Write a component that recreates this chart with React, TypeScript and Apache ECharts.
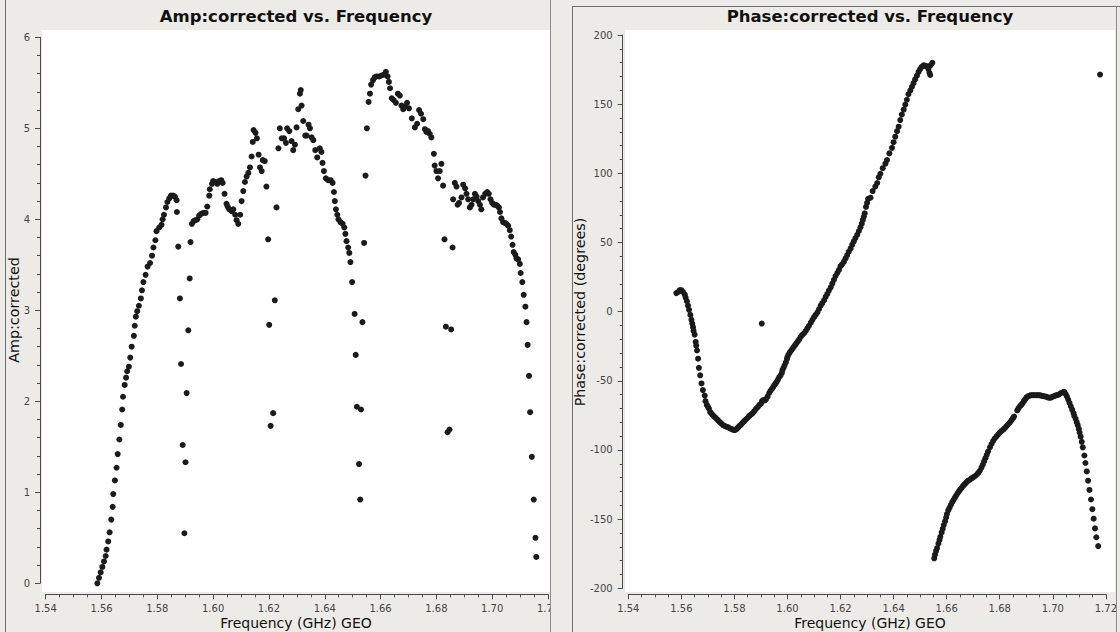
import { useEffect, useRef } from "react";
import * as echarts from "echarts";

// ---------- data ----------
const ampTitle = "Amp:corrected vs. Frequency";
const phaseTitle = "Phase:corrected vs. Frequency";
const xName = "Frequency (GHz) GEO";
const ampName = "Amp:corrected";
const phaseName = "Phase:corrected (degrees)";

const freqRange = [1.54, 1.72];
const freqStep = 0.02;
const ampRange = [0, 6];
const ampStep = 1;
const phaseRange = [-200, 200];
const phaseStep = 50;

const ampPoints: [number, number][] = [
  [1.5585, 0.0], [1.5591, 0.06], [1.5597, 0.12], [1.5603, 0.18], [1.5609, 0.24], [1.5615, 0.3],
  [1.5618, 0.37], [1.5624, 0.46], [1.5629, 0.56], [1.5635, 0.7], [1.564, 0.84], [1.5642, 0.98],
  [1.5648, 1.13], [1.5654, 1.27], [1.5658, 1.42], [1.5664, 1.58], [1.5669, 1.74], [1.5674, 1.91],
  [1.5677, 2.05], [1.5683, 2.18], [1.5688, 2.26], [1.5692, 2.33], [1.5698, 2.38], [1.5703, 2.48],
  [1.5708, 2.6], [1.5716, 2.72], [1.5719, 2.83], [1.5723, 2.93], [1.5728, 2.99], [1.5734, 3.05],
  [1.5741, 3.13], [1.5745, 3.22], [1.575, 3.31], [1.5758, 3.39], [1.5765, 3.48], [1.5774, 3.52],
  [1.5781, 3.6], [1.5786, 3.69], [1.5793, 3.77], [1.5797, 3.87], [1.5807, 3.91], [1.5815, 3.94],
  [1.5819, 4.0], [1.5824, 4.05], [1.5831, 4.13], [1.5836, 4.19], [1.5843, 4.23], [1.5849, 4.26],
  [1.5857, 4.26], [1.5863, 4.25], [1.5869, 4.21], [1.587, 4.08],
  [1.5875, 3.7], [1.5881, 3.13], [1.5885, 2.41], [1.5891, 1.52], [1.5897, 0.55], [1.5901, 1.33],
  [1.5905, 2.09], [1.5911, 2.78], [1.5916, 3.35], [1.5919, 3.75],
  [1.5924, 3.95], [1.593, 3.98], [1.5937, 3.99], [1.5943, 4.0], [1.595, 4.04], [1.5957, 4.06],
  [1.5965, 4.07], [1.5973, 4.07], [1.5979, 4.14], [1.5986, 4.26], [1.5988, 4.33], [1.5996, 4.39],
  [1.6, 4.42], [1.6008, 4.41], [1.6015, 4.39], [1.6022, 4.42], [1.6029, 4.43], [1.6034, 4.4],
  [1.6041, 4.28], [1.6048, 4.17], [1.6052, 4.14], [1.6058, 4.11], [1.6066, 4.09], [1.6072, 4.11],
  [1.6079, 4.05], [1.6084, 3.99], [1.609, 3.95], [1.6097, 4.05], [1.6102, 4.2], [1.6108, 4.31],
  [1.6114, 4.41], [1.612, 4.47], [1.6126, 4.51], [1.6132, 4.57], [1.6138, 4.69], [1.6142, 4.85],
  [1.6145, 4.98], [1.6152, 4.95], [1.6157, 4.89], [1.6163, 4.71], [1.6168, 4.57], [1.6174, 4.53],
  [1.6178, 4.65], [1.6185, 4.64], [1.6191, 4.36],
  [1.6197, 3.78], [1.6201, 2.84], [1.6206, 1.73], [1.6215, 1.87], [1.6221, 3.11], [1.6227, 4.13],
  [1.6234, 4.78], [1.6239, 5.0], [1.6246, 4.89], [1.6254, 4.89], [1.6261, 4.84], [1.6265, 5.0],
  [1.6273, 4.97], [1.6281, 4.86], [1.6287, 4.76], [1.6293, 4.82], [1.6299, 5.01], [1.6305, 5.21],
  [1.6311, 5.38], [1.6314, 5.42], [1.6317, 5.25], [1.6323, 5.08], [1.633, 4.92], [1.6335, 4.92],
  [1.6342, 5.04], [1.6347, 5.0], [1.6353, 4.9], [1.6359, 4.87], [1.6366, 4.76], [1.6373, 4.68],
  [1.6382, 4.78], [1.6388, 4.74], [1.6392, 4.62], [1.6397, 4.53], [1.6404, 4.45], [1.6412, 4.43],
  [1.6421, 4.43], [1.6428, 4.4], [1.6433, 4.3], [1.6436, 4.2], [1.644, 4.11], [1.6445, 4.05],
  [1.6449, 4.0], [1.6456, 3.97], [1.6464, 3.95], [1.647, 3.91], [1.6474, 3.84], [1.6478, 3.76],
  [1.6484, 3.69], [1.6488, 3.63], [1.6492, 3.53], [1.6498, 3.31], [1.6507, 2.96], [1.6511, 2.51],
  [1.6515, 1.94], [1.6523, 1.31], [1.6527, 0.92], [1.653, 1.91], [1.6535, 2.87], [1.6541, 3.74],
  [1.6546, 4.48], [1.6551, 5.0], [1.6557, 5.29], [1.6562, 5.38], [1.6566, 5.48], [1.6573, 5.53],
  [1.6579, 5.56], [1.6585, 5.57], [1.6595, 5.57], [1.6603, 5.58], [1.6612, 5.59], [1.6619, 5.62],
  [1.6625, 5.57], [1.663, 5.51], [1.6634, 5.44], [1.664, 5.33], [1.6647, 5.31], [1.6655, 5.28],
  [1.6662, 5.38], [1.6669, 5.36], [1.6675, 5.25], [1.6681, 5.21], [1.6688, 5.24], [1.6695, 5.28],
  [1.6702, 5.22], [1.6712, 5.11], [1.6723, 5.01], [1.6731, 5.05], [1.6738, 5.2], [1.6745, 5.16],
  [1.6753, 5.1], [1.6759, 4.99], [1.6764, 4.96], [1.677, 4.97], [1.6776, 4.94], [1.6782, 4.9],
  [1.6791, 4.72], [1.6794, 4.59], [1.68, 4.53], [1.6806, 4.45], [1.6812, 4.53], [1.6818, 4.61],
  [1.6824, 4.37],
  [1.6829, 3.78], [1.6834, 2.82], [1.684, 1.66], [1.6847, 1.69], [1.6853, 2.79], [1.6858, 3.69],
  [1.686, 4.22], [1.6866, 4.4], [1.6872, 4.36], [1.6876, 4.16], [1.6881, 4.18], [1.689, 4.24],
  [1.6896, 4.38], [1.6903, 4.34], [1.6908, 4.28], [1.6914, 4.22], [1.692, 4.13], [1.6926, 4.16],
  [1.6932, 4.22], [1.6938, 4.28], [1.6944, 4.25], [1.695, 4.2], [1.6956, 4.16], [1.6961, 4.11],
  [1.6967, 4.24], [1.6975, 4.28], [1.6982, 4.3], [1.6988, 4.28], [1.6994, 4.22], [1.7, 4.18],
  [1.7006, 4.16], [1.7012, 4.16], [1.7018, 4.15], [1.7024, 4.13], [1.7028, 4.08], [1.7033, 4.01],
  [1.7039, 3.97], [1.7045, 3.96], [1.7051, 3.95], [1.7057, 3.93], [1.7063, 3.88], [1.7068, 3.81],
  [1.7073, 3.72], [1.7077, 3.64], [1.7083, 3.61], [1.7087, 3.57], [1.7093, 3.56], [1.7099, 3.51],
  [1.7102, 3.41], [1.7108, 3.31], [1.7113, 3.17], [1.7119, 3.04], [1.7123, 2.87], [1.7127, 2.62],
  [1.7132, 2.28], [1.7136, 1.88], [1.7142, 1.39], [1.7149, 0.92], [1.7155, 0.5], [1.7158, 0.29],
];

const phaseUpper: [number, number][] = [
  [1.5581, 13.4], [1.5588, 14.2], [1.5594, 15.5], [1.56, 15.5], [1.5606, 14.2], [1.5613, 12.3],
  [1.5616, 10.2], [1.5621, 7.5], [1.5625, 4.3], [1.5629, 1.3], [1.5634, -2.4], [1.5638, -5.9],
  [1.5641, -8.6], [1.5644, -11.2], [1.5646, -13.9], [1.565, -16.6], [1.5654, -21.9], [1.5656, -24.6],
  [1.5659, -28.1], [1.5663, -34.0], [1.5666, -40.6], [1.5671, -46.0], [1.5676, -51.9], [1.5681, -56.7],
  [1.5688, -60.7], [1.5691, -64.7], [1.5696, -67.4], [1.57, -68.7], [1.5704, -70.1], [1.5709, -72.7],
  [1.5714, -73.8], [1.5719, -74.9], [1.5724, -75.9], [1.5729, -76.7], [1.5734, -77.8], [1.5738, -78.6],
  [1.5744, -79.7], [1.575, -80.7], [1.5756, -81.8], [1.5763, -82.6], [1.5769, -83.2], [1.5775, -83.4],
  [1.5781, -84.2], [1.5788, -84.8], [1.5794, -85.3], [1.58, -85.6], [1.5804, -85.3], [1.5809, -84.8],
  [1.5814, -83.7], [1.5819, -82.6], [1.5824, -81.8], [1.5829, -80.7], [1.5834, -79.7], [1.5838, -78.9],
  [1.5844, -77.8], [1.585, -76.7], [1.5856, -75.4], [1.5863, -74.3], [1.5869, -73.3], [1.5875, -71.9],
  [1.5881, -70.3], [1.5888, -69.0], [1.5894, -67.4], [1.59, -66.6], [1.5904, -64.7], [1.5909, -63.9],
  [1.5914, -64.2], [1.5919, -63.4], [1.5925, -61.5], [1.5931, -58.8], [1.5936, -57.2], [1.5941, -55.9],
  [1.5946, -54.5], [1.595, -53.2], [1.5955, -51.9], [1.5959, -50.8], [1.5964, -49.2], [1.5969, -47.3],
  [1.5974, -46.0], [1.5979, -44.1], [1.5981, -42.2], [1.5985, -40.6], [1.5989, -38.8], [1.5994, -36.6],
  [1.5998, -34.2], [1.6, -32.6], [1.6004, -31.0], [1.6009, -29.4], [1.6014, -28.1], [1.6019, -26.7],
  [1.6024, -25.4], [1.6029, -24.1], [1.6034, -22.7], [1.6039, -21.4], [1.6044, -20.1], [1.605, -18.2],
  [1.6056, -16.8], [1.6063, -15.5], [1.6069, -13.9], [1.6075, -12.0], [1.6081, -10.2], [1.6088, -8.0],
  [1.6094, -5.9], [1.61, -4.0], [1.6106, -2.4], [1.6113, -0.5], [1.6119, 1.9], [1.6125, 4.3],
  [1.6131, 6.1], [1.6138, 8.3], [1.6144, 10.7], [1.615, 12.8], [1.6156, 15.2], [1.6163, 17.6],
  [1.6169, 20.3], [1.6175, 23.0], [1.6181, 25.7], [1.6188, 28.1], [1.6194, 30.2], [1.62, 32.9],
  [1.6206, 34.2], [1.6213, 36.1], [1.6219, 38.5], [1.6225, 40.9], [1.6231, 43.3], [1.6238, 45.7],
  [1.6244, 48.4], [1.625, 50.8], [1.6256, 53.2], [1.6263, 55.6], [1.6269, 58.3], [1.6275, 61.0],
  [1.628, 63.6], [1.6284, 66.3], [1.6288, 68.7], [1.6291, 71.1], [1.6296, 75.7], [1.63, 78.6],
  [1.6304, 81.6], [1.6313, 82.4], [1.6321, 87.2], [1.6331, 90.4], [1.6338, 93.0], [1.6344, 97.1],
  [1.635, 99.7], [1.6359, 103.7], [1.6369, 107.0], [1.6375, 109.6], [1.6384, 114.4], [1.6394, 118.4],
  [1.64, 122.5], [1.6406, 126.5], [1.6413, 130.5], [1.6419, 133.7], [1.6425, 138.5], [1.6431, 142.5],
  [1.6438, 146.0], [1.6444, 149.7], [1.645, 153.2], [1.6456, 157.2], [1.6463, 159.9], [1.6469, 162.6],
  [1.6475, 165.2], [1.6481, 167.9], [1.6488, 170.6], [1.6494, 173.3], [1.65, 175.4], [1.6506, 177.0],
  [1.6513, 178.1], [1.6519, 177.8], [1.6525, 177.3], [1.6531, 175.4], [1.6535, 172.7], [1.6538, 171.1],
  [1.6539, 178.1], [1.6546, 179.9],
];

const phaseLower: [number, number][] = [
  [1.6553, -178.3], [1.6556, -175.7], [1.656, -173.0], [1.6564, -170.9], [1.6569, -167.6], [1.6573, -165.0],
  [1.6576, -162.8], [1.6581, -159.6], [1.6585, -157.0], [1.6589, -154.3], [1.6594, -151.6], [1.6598, -148.9],
  [1.6601, -146.3], [1.6606, -143.6], [1.6611, -141.7], [1.6616, -139.6], [1.6621, -137.7], [1.6626, -136.1],
  [1.6631, -134.5], [1.6636, -132.9], [1.6641, -131.3], [1.6646, -129.9], [1.6651, -128.6], [1.6656, -127.5],
  [1.6661, -126.2], [1.6666, -125.1], [1.6671, -124.1], [1.6676, -123.0], [1.6681, -122.2], [1.6688, -121.4],
  [1.6694, -120.6], [1.67, -119.8], [1.6706, -119.0], [1.6713, -117.9], [1.6719, -116.6], [1.6725, -115.0],
  [1.6731, -112.8], [1.6736, -110.7], [1.6741, -108.3], [1.6746, -105.9], [1.6751, -103.5], [1.6756, -101.1],
  [1.6763, -98.1], [1.6769, -95.7], [1.6775, -93.6], [1.6781, -91.7], [1.6788, -90.1], [1.6794, -88.8],
  [1.68, -87.4], [1.6806, -86.4], [1.6813, -85.3], [1.6819, -84.2], [1.6825, -82.9], [1.6831, -81.6],
  [1.6838, -80.2], [1.6844, -78.6], [1.685, -77.0], [1.6854, -75.8], [1.6866, -71.4], [1.6871, -69.8],
  [1.6876, -68.4], [1.6881, -67.4], [1.6886, -66.3], [1.6891, -64.7], [1.6896, -63.4], [1.6901, -62.0],
  [1.6906, -61.2], [1.6913, -60.7], [1.6919, -60.4], [1.6925, -60.4], [1.6931, -60.4], [1.6938, -60.4],
  [1.6944, -60.4], [1.695, -60.4], [1.6956, -60.7], [1.6963, -61.0], [1.6969, -61.2], [1.6975, -61.5],
  [1.6981, -62.0], [1.6988, -62.3], [1.6994, -62.0], [1.7, -61.5], [1.7006, -61.0], [1.7013, -60.4],
  [1.7019, -60.2], [1.7025, -59.6], [1.7031, -58.8], [1.7038, -58.3], [1.7043, -58.0], [1.7048, -59.4],
  [1.7053, -61.2], [1.7058, -63.6], [1.7063, -66.0], [1.7068, -68.4], [1.7073, -70.9], [1.7078, -73.3],
  [1.7081, -75.4], [1.7086, -77.5], [1.709, -79.9], [1.7094, -82.1], [1.7098, -84.8], [1.7101, -87.4],
  [1.7105, -90.4], [1.7109, -94.1], [1.7113, -98.1], [1.7119, -104.0], [1.7123, -109.4], [1.7128, -115.5],
  [1.7133, -122.2], [1.7138, -128.9], [1.7144, -135.8], [1.7149, -142.8], [1.7154, -149.7], [1.7159, -156.7],
  [1.7164, -163.1], [1.7171, -169.5],
];

const phaseStray: [number, number][] = [
  [1.5903, -8.6],
  [1.7178, 171.4],
];

// ---------- layout ----------
const FONT = "'DejaVu Sans', Verdana, sans-serif";
const BG = "#edebe8";
const AXIS = "#4a4a4a";
const LABEL = "#444444";
const DOT = "#1b1b1b";

const L = { left: 45.7, top: 37.3, width: 502.3, height: 546, canvas: [42, 30, 508, 562] };
const R = { left: 628.3, top: 35, width: 480, height: 553.3, canvas: [625, 30, 490, 562] };

function xAxisCfg(gridIndex: number, offset: number) {
  return {
    type: "value",
    gridIndex,
    min: freqRange[0],
    max: freqRange[1],
    interval: freqStep,
    offset,
    axisLine: { show: true, onZero: false, lineStyle: { color: AXIS, width: 1 } },
    axisTick: { show: true, inside: false, length: 5, lineStyle: { color: AXIS } },
    minorTick: { show: true, splitNumber: 4, length: 3, lineStyle: { color: AXIS } },
    axisLabel: {
      show: true,
      margin: 9,
      color: LABEL,
      fontSize: 10,
      fontFamily: FONT,
      formatter: (v: number) => v.toFixed(2),
      showMinLabel: true,
      showMaxLabel: true,
    },
    splitLine: { show: false },
    minorSplitLine: { show: false },
  };
}

function yAxisCfg(gridIndex: number, offset: number, range: number[], step: number) {
  return {
    type: "value",
    gridIndex,
    min: range[0],
    max: range[1],
    interval: step,
    offset,
    axisLine: { show: true, onZero: false, lineStyle: { color: AXIS, width: 1 } },
    axisTick: { show: true, inside: false, length: 5, lineStyle: { color: AXIS } },
    minorTick: { show: true, splitNumber: 5, length: 3, lineStyle: { color: AXIS } },
    axisLabel: {
      show: true,
      margin: 10,
      color: LABEL,
      fontSize: 10,
      fontFamily: FONT,
      showMinLabel: true,
      showMaxLabel: true,
    },
    splitLine: { show: false },
    minorSplitLine: { show: false },
  };
}

function scatter(name: string, data: [number, number][], idx: number) {
  return {
    type: "scatter",
    name,
    xAxisIndex: idx,
    yAxisIndex: idx,
    data,
    symbol: "circle",
    symbolSize: 6,
    clip: false,
    itemStyle: { color: DOT, opacity: 1 },
    silent: true,
    z: 5,
  };
}

export default function App() {
  const ref = useRef<HTMLDivElement>(null);

  useEffect(() => {
    if (!ref.current) return;
    const chart = echarts.init(ref.current, undefined, { renderer: "svg" });

    const rect = (x: number, y: number, w: number, h: number, fill: string, z: number) => ({
      type: "rect",
      shape: { x, y, width: w, height: h },
      style: { fill },
      silent: true,
      z,
    });
    const line = (x1: number, y1: number, x2: number, y2: number, color: string) => ({
      type: "line",
      shape: { x1, y1, x2, y2 },
      style: { stroke: color, lineWidth: 1 },
      silent: true,
      z: 60,
    });
    const text = (s: string, x: number, y: number, size: number, weight: string, rot = 0) => ({
      type: "text",
      x,
      y,
      rotation: rot,
      silent: true,
      z: 70,
      style: {
        text: s,
        x: 0,
        y: 0,
        fill: "#111111",
        font: `${weight} ${size}px ${FONT}`,
        textAlign: "center",
        textVerticalAlign: "middle",
      },
    });

    chart.setOption({
      animation: false,
      backgroundColor: BG,
      grid: [
        { left: L.left, top: L.top, width: L.width, height: L.height, containLabel: false },
        { left: R.left, top: R.top, width: R.width, height: R.height, containLabel: false },
      ],
      xAxis: [xAxisCfg(0, 11), xAxisCfg(1, 6)],
      yAxis: [
        yAxisCfg(0, 5.7, ampRange, ampStep),
        yAxisCfg(1, 5.6, phaseRange, phaseStep),
      ],
      series: [
        scatter("amp", ampPoints, 0),
        scatter("phaseUpper", phaseUpper, 1),
        scatter("phaseLower", phaseLower, 1),
        scatter("phaseStray", phaseStray, 1),
      ],
      graphic: [
        {
          type: "group",
          z: -10,
          children: [
            rect(L.canvas[0], L.canvas[1], L.canvas[2], L.canvas[3], "#ffffff", -10),
            rect(R.canvas[0], R.canvas[1], R.canvas[2], R.canvas[3], "#ffffff", -10),
          ],
        },
        {
          type: "group",
          z: 50,
          children: [
            rect(551, 595, 21, 37, BG, 50),
            rect(1117, 595, 3, 37, BG, 50),
            line(5.5, 0, 5.5, 632, "#6e6e6e"),
            line(550.5, 0, 550.5, 632, "#8c8c8c"),
            line(572.5, 6, 572.5, 632, "#6e6e6e"),
            line(572.5, 6.5, 1120, 6.5, "#6e6e6e"),
            line(1116.5, 6, 1116.5, 632, "#8c8c8c"),
            text(ampTitle, 296, 16, 16.5, "bold"),
            text(phaseTitle, 870, 16, 16.5, "bold"),
            text(xName, 296, 623, 14, "normal"),
            text(xName, 870, 623, 14, "normal"),
            text(ampName, 14, 310, 14.3, "normal", Math.PI / 2),
            text(phaseName, 580, 312, 14.3, "normal", Math.PI / 2),
          ],
        },
      ],
    });

    return () => chart.dispose();
  }, []);

  return (
    <div
      ref={ref}
      style={{ position: "fixed", left: 0, top: 0, width: 1120, height: 632, background: BG }}
    />
  );
}
